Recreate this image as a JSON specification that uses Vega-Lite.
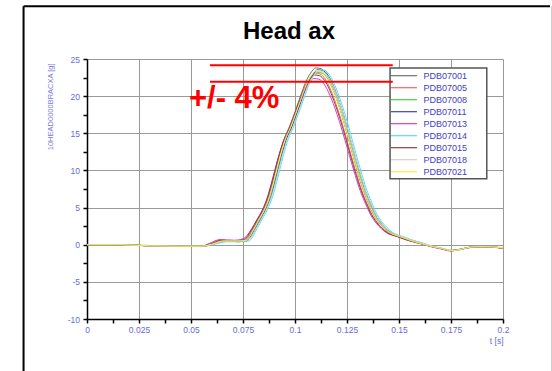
{
 "$schema": "https://vega.github.io/schema/vega-lite/v6.json",
 "width": 416,
 "height": 260,
 "autosize": {"type": "none"},
 "padding": {"left": 87, "top": 59, "right": 49, "bottom": 52},
 "background": "white",
 "config": {"view": {"stroke": null}, "font": "Liberation Sans"},
 "title": {"text": "Head ax", "font": "Liberation Sans", "fontSize": 24, "fontWeight": "bold", "color": "black", "anchor": "middle", "frame": "group", "baseline": "alphabetic", "offset": -58, "dx": -6},
 "encoding": {
  "x": {"field": "t", "type": "quantitative", "scale": {"domain": [0, 0.2], "nice": false, "zero": false},
   "axis": {
    "values": [0,0.0125,0.025,0.0375,0.05,0.0625,0.075,0.0875,0.1,0.1125,0.125,0.1375,0.15,0.1625,0.175,0.1875,0.2],
    "labelExpr": "round(datum.value*10000) % 250 == 0 ? '' + datum.value : ''",
    "grid": true, "gridColor": "#999999",
    "gridOpacity": {"condition": {"test": "round(datum.value*10000) % 250 != 0", "value": 0}, "value": 1},
    "domainColor": "black", "domainWidth": 1.5, "tickColor": "black", "tickSize": 4, "tickWidth": 1.5,
    "labelFont": "Liberation Sans", "labelFontSize": 8.5, "labelColor": "#6a6ad8", "labelPadding": 2, "labelFlush": false, "labelOverlap": false,
    "title": "t [s]", "titleFont": "Liberation Sans", "titleFontSize": 8.5, "titleFontWeight": "normal", "titleColor": "#6a6ad8",
    "titleX": 416, "titleY": 21, "titleAlign": "right", "titleBaseline": "middle"
   }},
  "y": {"field": "v", "type": "quantitative", "scale": {"domain": [-10, 25], "nice": false, "zero": false},
   "axis": {
    "values": [-10,-7.5,-5,-2.5,0,2.5,5,7.5,10,12.5,15,17.5,20,22.5,25],
    "labelExpr": "datum.value % 5 == 0 ? '' + datum.value : ''",
    "grid": true, "gridColor": "#999999",
    "gridOpacity": {"condition": {"test": "datum.value % 5 != 0", "value": 0}, "value": 1},
    "domainColor": "black", "domainWidth": 1.5, "tickColor": "black", "tickSize": 4, "tickWidth": 1.5,
    "labelFont": "Liberation Sans", "labelFontSize": 8.5, "labelColor": "#6a6ad8", "labelPadding": 3.5, "labelOverlap": false,
    "title": "10HEAD0000BRACXA [g]", "titleFont": "Liberation Sans", "titleFontSize": 7.5, "titleFontWeight": "normal", "titleColor": "#7a7ae0",
    "titleX": -36.5, "titleY": 4, "titleAngle": -90, "titleAlign": "right", "titleBaseline": "middle"
   }}
 },
 "layer": [
  {
   "data": {"values": [{"t": -0.0305, "v": 32.09, "v2": -17.5}]},
   "mark": {"type": "rule", "color": "black", "strokeWidth": 2},
   "encoding": {"y2": {"field": "v2"}}
  },
  {
   "data": {"values": [{"t": -0.0305, "t2": 0.2226, "v": 32.09}]},
   "mark": {"type": "rule", "color": "black", "strokeWidth": 2},
   "encoding": {"x2": {"field": "t2"}}
  },
  {
   "data": {"values": [{"t": 0.2233, "v": 32.09, "v2": -17.5}]},
   "mark": {"type": "rule", "color": "#cccccc", "strokeWidth": 1},
   "encoding": {"y2": {"field": "v2"}}
  },
  {
   "data": {"values": [
{"s":"PDB07001","t":0,"v":0},{"s":"PDB07001","t":0.015,"v":0},{"s":"PDB07001","t":0.03,"v":-0.15},{"s":"PDB07001","t":0.045,"v":-0.2},{"s":"PDB07001","t":0.055,"v":-0.2},
{"s":"PDB07001","t":0.06,"v":0.1},{"s":"PDB07001","t":0.065,"v":0.5},{"s":"PDB07001","t":0.072,"v":0.5},{"s":"PDB07001","t":0.076,"v":0.6},
{"s":"PDB07001","t":0.08,"v":2.2},{"s":"PDB07001","t":0.0825,"v":3.5},{"s":"PDB07001","t":0.085,"v":4.8},{"s":"PDB07001","t":0.0875,"v":6.6},{"s":"PDB07001","t":0.09,"v":9.2},{"s":"PDB07001","t":0.0925,"v":12.0},{"s":"PDB07001","t":0.095,"v":14.4},{"s":"PDB07001","t":0.0975,"v":16.0},{"s":"PDB07001","t":0.1,"v":17.9},{"s":"PDB07001","t":0.1025,"v":19.9},{"s":"PDB07001","t":0.105,"v":21.8},{"s":"PDB07001","t":0.1075,"v":23.1},{"s":"PDB07001","t":0.11,"v":23.8},{"s":"PDB07001","t":0.1125,"v":23.7},{"s":"PDB07001","t":0.115,"v":23.0},{"s":"PDB07001","t":0.1175,"v":21.6},{"s":"PDB07001","t":0.12,"v":19.7},{"s":"PDB07001","t":0.1225,"v":17.5},{"s":"PDB07001","t":0.125,"v":15.0},{"s":"PDB07001","t":0.1275,"v":12.4},{"s":"PDB07001","t":0.13,"v":9.9},{"s":"PDB07001","t":0.1325,"v":7.6},{"s":"PDB07001","t":0.135,"v":5.8},{"s":"PDB07001","t":0.1375,"v":4.2},{"s":"PDB07001","t":0.14,"v":3.1},{"s":"PDB07001","t":0.1425,"v":2.3},{"s":"PDB07001","t":0.145,"v":1.7},{"s":"PDB07001","t":0.15,"v":1.1},{"s":"PDB07001","t":0.155,"v":0.6},
{"s":"PDB07001","t":0.16,"v":0.2},{"s":"PDB07001","t":0.165,"v":-0.2},{"s":"PDB07001","t":0.17,"v":-0.5},{"s":"PDB07001","t":0.175,"v":-0.8},{"s":"PDB07001","t":0.18,"v":-0.6},{"s":"PDB07001","t":0.185,"v":-0.3},{"s":"PDB07001","t":0.19,"v":-0.25},{"s":"PDB07001","t":0.195,"v":-0.3},{"s":"PDB07001","t":0.2,"v":-0.45},

{"s":"PDB07005","t":0,"v":0},{"s":"PDB07005","t":0.015,"v":-0.05},{"s":"PDB07005","t":0.03,"v":-0.15},{"s":"PDB07005","t":0.045,"v":-0.25},{"s":"PDB07005","t":0.055,"v":-0.2},
{"s":"PDB07005","t":0.0595,"v":0.1},{"s":"PDB07005","t":0.0645,"v":0.6},{"s":"PDB07005","t":0.0715,"v":0.5},{"s":"PDB07005","t":0.0755,"v":0.6},
{"s":"PDB07005","t":0.0795,"v":2.13},{"s":"PDB07005","t":0.082,"v":3.4},{"s":"PDB07005","t":0.0845,"v":4.66},{"s":"PDB07005","t":0.087,"v":6.4},{"s":"PDB07005","t":0.0895,"v":8.92},{"s":"PDB07005","t":0.092,"v":11.64},{"s":"PDB07005","t":0.0945,"v":13.97},{"s":"PDB07005","t":0.097,"v":15.52},{"s":"PDB07005","t":0.0995,"v":17.36},{"s":"PDB07005","t":0.102,"v":19.3},{"s":"PDB07005","t":0.1045,"v":21.15},{"s":"PDB07005","t":0.107,"v":22.41},{"s":"PDB07005","t":0.1095,"v":23.09},{"s":"PDB07005","t":0.112,"v":22.99},{"s":"PDB07005","t":0.1145,"v":22.31},{"s":"PDB07005","t":0.117,"v":20.95},{"s":"PDB07005","t":0.1195,"v":19.11},{"s":"PDB07005","t":0.122,"v":16.98},{"s":"PDB07005","t":0.1245,"v":14.55},{"s":"PDB07005","t":0.127,"v":12.03},{"s":"PDB07005","t":0.1295,"v":9.6},{"s":"PDB07005","t":0.132,"v":7.37},{"s":"PDB07005","t":0.1345,"v":5.63},{"s":"PDB07005","t":0.137,"v":4.07},{"s":"PDB07005","t":0.1395,"v":3.01},{"s":"PDB07005","t":0.142,"v":2.23},{"s":"PDB07005","t":0.1445,"v":1.65},{"s":"PDB07005","t":0.1495,"v":1.1},{"s":"PDB07005","t":0.1545,"v":0.6},
{"s":"PDB07005","t":0.16,"v":0.2},{"s":"PDB07005","t":0.165,"v":-0.2},{"s":"PDB07005","t":0.17,"v":-0.5},{"s":"PDB07005","t":0.175,"v":-0.75},{"s":"PDB07005","t":0.18,"v":-0.6},{"s":"PDB07005","t":0.185,"v":-0.3},{"s":"PDB07005","t":0.19,"v":-0.25},{"s":"PDB07005","t":0.195,"v":-0.3},{"s":"PDB07005","t":0.2,"v":-0.45},

{"s":"PDB07008","t":0,"v":0},{"s":"PDB07008","t":0.015,"v":0},{"s":"PDB07008","t":0.03,"v":-0.1},{"s":"PDB07008","t":0.045,"v":-0.2},{"s":"PDB07008","t":0.055,"v":-0.2},
{"s":"PDB07008","t":0.0605,"v":0.1},{"s":"PDB07008","t":0.0655,"v":0.4},{"s":"PDB07008","t":0.0725,"v":0.5},{"s":"PDB07008","t":0.0765,"v":0.5},
{"s":"PDB07008","t":0.0805,"v":2.15},{"s":"PDB07008","t":0.083,"v":3.41},{"s":"PDB07008","t":0.0855,"v":4.68},{"s":"PDB07008","t":0.088,"v":6.44},{"s":"PDB07008","t":0.0905,"v":8.97},{"s":"PDB07008","t":0.093,"v":11.7},{"s":"PDB07008","t":0.0955,"v":14.04},{"s":"PDB07008","t":0.098,"v":15.6},{"s":"PDB07008","t":0.1005,"v":17.45},{"s":"PDB07008","t":0.103,"v":19.4},{"s":"PDB07008","t":0.1055,"v":21.26},{"s":"PDB07008","t":0.108,"v":22.52},{"s":"PDB07008","t":0.1105,"v":23.21},{"s":"PDB07008","t":0.113,"v":23.11},{"s":"PDB07008","t":0.1155,"v":22.43},{"s":"PDB07008","t":0.118,"v":21.06},{"s":"PDB07008","t":0.1205,"v":19.21},{"s":"PDB07008","t":0.123,"v":17.06},{"s":"PDB07008","t":0.1255,"v":14.63},{"s":"PDB07008","t":0.128,"v":12.09},{"s":"PDB07008","t":0.1305,"v":9.65},{"s":"PDB07008","t":0.133,"v":7.41},{"s":"PDB07008","t":0.1355,"v":5.66},{"s":"PDB07008","t":0.138,"v":4.1},{"s":"PDB07008","t":0.1405,"v":3.02},{"s":"PDB07008","t":0.143,"v":2.24},{"s":"PDB07008","t":0.1455,"v":1.66},{"s":"PDB07008","t":0.1505,"v":1.1},{"s":"PDB07008","t":0.1555,"v":0.6},
{"s":"PDB07008","t":0.16,"v":0.25},{"s":"PDB07008","t":0.165,"v":-0.2},{"s":"PDB07008","t":0.17,"v":-0.5},{"s":"PDB07008","t":0.175,"v":-0.8},{"s":"PDB07008","t":0.18,"v":-0.55},{"s":"PDB07008","t":0.185,"v":-0.3},{"s":"PDB07008","t":0.19,"v":-0.25},{"s":"PDB07008","t":0.195,"v":-0.3},{"s":"PDB07008","t":0.2,"v":-0.45},

{"s":"PDB07011","t":0,"v":0},{"s":"PDB07011","t":0.015,"v":0},{"s":"PDB07011","t":0.03,"v":-0.15},{"s":"PDB07011","t":0.045,"v":-0.2},{"s":"PDB07011","t":0.055,"v":-0.25},
{"s":"PDB07011","t":0.061,"v":0.1},{"s":"PDB07011","t":0.066,"v":0.5},{"s":"PDB07011","t":0.073,"v":0.4},{"s":"PDB07011","t":0.077,"v":0.6},
{"s":"PDB07011","t":0.081,"v":2.18},{"s":"PDB07011","t":0.0835,"v":3.47},{"s":"PDB07011","t":0.086,"v":4.75},{"s":"PDB07011","t":0.0885,"v":6.53},{"s":"PDB07011","t":0.091,"v":9.11},{"s":"PDB07011","t":0.0935,"v":11.88},{"s":"PDB07011","t":0.096,"v":14.26},{"s":"PDB07011","t":0.0985,"v":15.84},{"s":"PDB07011","t":0.101,"v":17.72},{"s":"PDB07011","t":0.1035,"v":19.7},{"s":"PDB07011","t":0.106,"v":21.58},{"s":"PDB07011","t":0.1085,"v":22.87},{"s":"PDB07011","t":0.111,"v":23.56},{"s":"PDB07011","t":0.1135,"v":23.46},{"s":"PDB07011","t":0.116,"v":22.77},{"s":"PDB07011","t":0.1185,"v":21.38},{"s":"PDB07011","t":0.121,"v":19.5},{"s":"PDB07011","t":0.1235,"v":17.33},{"s":"PDB07011","t":0.126,"v":14.85},{"s":"PDB07011","t":0.1285,"v":12.28},{"s":"PDB07011","t":0.131,"v":9.8},{"s":"PDB07011","t":0.1335,"v":7.52},{"s":"PDB07011","t":0.136,"v":5.74},{"s":"PDB07011","t":0.1385,"v":4.16},{"s":"PDB07011","t":0.141,"v":3.07},{"s":"PDB07011","t":0.1435,"v":2.28},{"s":"PDB07011","t":0.146,"v":1.68},{"s":"PDB07011","t":0.151,"v":1.1},{"s":"PDB07011","t":0.156,"v":0.6},
{"s":"PDB07011","t":0.16,"v":0.3},{"s":"PDB07011","t":0.165,"v":-0.15},{"s":"PDB07011","t":0.17,"v":-0.5},{"s":"PDB07011","t":0.175,"v":-0.8},{"s":"PDB07011","t":0.18,"v":-0.6},{"s":"PDB07011","t":0.185,"v":-0.35},{"s":"PDB07011","t":0.19,"v":-0.25},{"s":"PDB07011","t":0.195,"v":-0.3},{"s":"PDB07011","t":0.2,"v":-0.5},

{"s":"PDB07013","t":0,"v":0},{"s":"PDB07013","t":0.015,"v":0},{"s":"PDB07013","t":0.03,"v":-0.15},{"s":"PDB07013","t":0.045,"v":-0.2},{"s":"PDB07013","t":0.055,"v":-0.2},
{"s":"PDB07013","t":0.059,"v":0.2},{"s":"PDB07013","t":0.064,"v":0.7},{"s":"PDB07013","t":0.071,"v":0.6},{"s":"PDB07013","t":0.075,"v":0.8},
{"s":"PDB07013","t":0.079,"v":2.07},{"s":"PDB07013","t":0.0815,"v":3.29},{"s":"PDB07013","t":0.084,"v":4.51},{"s":"PDB07013","t":0.0865,"v":6.2},{"s":"PDB07013","t":0.089,"v":8.65},{"s":"PDB07013","t":0.0915,"v":11.28},{"s":"PDB07013","t":0.094,"v":13.54},{"s":"PDB07013","t":0.0965,"v":15.04},{"s":"PDB07013","t":0.099,"v":16.83},{"s":"PDB07013","t":0.1015,"v":18.71},{"s":"PDB07013","t":0.104,"v":20.49},{"s":"PDB07013","t":0.1065,"v":21.71},{"s":"PDB07013","t":0.109,"v":22.37},{"s":"PDB07013","t":0.1115,"v":22.28},{"s":"PDB07013","t":0.114,"v":21.62},{"s":"PDB07013","t":0.1165,"v":20.3},{"s":"PDB07013","t":0.119,"v":18.52},{"s":"PDB07013","t":0.1215,"v":16.45},{"s":"PDB07013","t":0.124,"v":14.1},{"s":"PDB07013","t":0.1265,"v":11.66},{"s":"PDB07013","t":0.129,"v":9.31},{"s":"PDB07013","t":0.1315,"v":7.14},{"s":"PDB07013","t":0.134,"v":5.45},{"s":"PDB07013","t":0.1365,"v":3.95},{"s":"PDB07013","t":0.139,"v":2.91},{"s":"PDB07013","t":0.1415,"v":2.16},{"s":"PDB07013","t":0.144,"v":1.6},{"s":"PDB07013","t":0.149,"v":1.1},{"s":"PDB07013","t":0.154,"v":0.6},
{"s":"PDB07013","t":0.16,"v":0.2},{"s":"PDB07013","t":0.165,"v":-0.25},{"s":"PDB07013","t":0.17,"v":-0.55},{"s":"PDB07013","t":0.175,"v":-0.85},{"s":"PDB07013","t":0.18,"v":-0.6},{"s":"PDB07013","t":0.185,"v":-0.3},{"s":"PDB07013","t":0.19,"v":-0.3},{"s":"PDB07013","t":0.195,"v":-0.3},{"s":"PDB07013","t":0.2,"v":-0.45},

{"s":"PDB07014","t":0,"v":0},{"s":"PDB07014","t":0.015,"v":0},{"s":"PDB07014","t":0.03,"v":-0.15},{"s":"PDB07014","t":0.045,"v":-0.2},{"s":"PDB07014","t":0.055,"v":-0.2},
{"s":"PDB07014","t":0.0618,"v":0.1},{"s":"PDB07014","t":0.0668,"v":0.4},{"s":"PDB07014","t":0.0738,"v":0.4},{"s":"PDB07014","t":0.0778,"v":0.5},
{"s":"PDB07014","t":0.0818,"v":2.18},{"s":"PDB07014","t":0.0843,"v":3.47},{"s":"PDB07014","t":0.0868,"v":4.75},{"s":"PDB07014","t":0.0893,"v":6.53},{"s":"PDB07014","t":0.0918,"v":9.11},{"s":"PDB07014","t":0.0943,"v":11.88},{"s":"PDB07014","t":0.0968,"v":14.26},{"s":"PDB07014","t":0.0993,"v":15.84},{"s":"PDB07014","t":0.1018,"v":17.72},{"s":"PDB07014","t":0.1043,"v":19.7},{"s":"PDB07014","t":0.1068,"v":21.58},{"s":"PDB07014","t":0.1093,"v":22.87},{"s":"PDB07014","t":0.1118,"v":23.56},{"s":"PDB07014","t":0.1143,"v":23.46},{"s":"PDB07014","t":0.1168,"v":22.77},{"s":"PDB07014","t":0.1193,"v":21.38},{"s":"PDB07014","t":0.1218,"v":19.5},{"s":"PDB07014","t":0.1243,"v":17.33},{"s":"PDB07014","t":0.1268,"v":14.85},{"s":"PDB07014","t":0.1293,"v":12.28},{"s":"PDB07014","t":0.1318,"v":9.8},{"s":"PDB07014","t":0.1343,"v":7.52},{"s":"PDB07014","t":0.1368,"v":5.74},{"s":"PDB07014","t":0.1393,"v":4.16},{"s":"PDB07014","t":0.1418,"v":3.07},{"s":"PDB07014","t":0.1443,"v":2.28},{"s":"PDB07014","t":0.1468,"v":1.68},{"s":"PDB07014","t":0.1518,"v":1.1},{"s":"PDB07014","t":0.1568,"v":0.6},
{"s":"PDB07014","t":0.161,"v":0.25},{"s":"PDB07014","t":0.166,"v":-0.2},{"s":"PDB07014","t":0.171,"v":-0.5},{"s":"PDB07014","t":0.176,"v":-0.8},{"s":"PDB07014","t":0.18,"v":-0.65},{"s":"PDB07014","t":0.185,"v":-0.3},{"s":"PDB07014","t":0.19,"v":-0.25},{"s":"PDB07014","t":0.195,"v":-0.3},{"s":"PDB07014","t":0.2,"v":-0.45},

{"s":"PDB07015","t":0,"v":0},{"s":"PDB07015","t":0.015,"v":0},{"s":"PDB07015","t":0.03,"v":-0.15},{"s":"PDB07015","t":0.045,"v":-0.2},{"s":"PDB07015","t":0.055,"v":-0.2},
{"s":"PDB07015","t":0.0593,"v":0.1},{"s":"PDB07015","t":0.0643,"v":0.6},{"s":"PDB07015","t":0.0713,"v":0.5},{"s":"PDB07015","t":0.0753,"v":0.7},
{"s":"PDB07015","t":0.0793,"v":2.11},{"s":"PDB07015","t":0.0818,"v":3.36},{"s":"PDB07015","t":0.0843,"v":4.61},{"s":"PDB07015","t":0.0868,"v":6.34},{"s":"PDB07015","t":0.0893,"v":8.83},{"s":"PDB07015","t":0.0918,"v":11.52},{"s":"PDB07015","t":0.0943,"v":13.82},{"s":"PDB07015","t":0.0968,"v":15.36},{"s":"PDB07015","t":0.0993,"v":17.18},{"s":"PDB07015","t":0.1018,"v":19.1},{"s":"PDB07015","t":0.1043,"v":20.93},{"s":"PDB07015","t":0.1068,"v":22.18},{"s":"PDB07015","t":0.1093,"v":22.85},{"s":"PDB07015","t":0.1118,"v":22.75},{"s":"PDB07015","t":0.1143,"v":22.08},{"s":"PDB07015","t":0.1168,"v":20.74},{"s":"PDB07015","t":0.1193,"v":18.91},{"s":"PDB07015","t":0.1218,"v":16.8},{"s":"PDB07015","t":0.1243,"v":14.4},{"s":"PDB07015","t":0.1268,"v":11.9},{"s":"PDB07015","t":0.1293,"v":9.5},{"s":"PDB07015","t":0.1318,"v":7.3},{"s":"PDB07015","t":0.1343,"v":5.57},{"s":"PDB07015","t":0.1368,"v":4.03},{"s":"PDB07015","t":0.1393,"v":2.98},{"s":"PDB07015","t":0.1418,"v":2.21},{"s":"PDB07015","t":0.1443,"v":1.63},{"s":"PDB07015","t":0.1493,"v":1.1},{"s":"PDB07015","t":0.1543,"v":0.6},
{"s":"PDB07015","t":0.16,"v":0.15},{"s":"PDB07015","t":0.165,"v":-0.2},{"s":"PDB07015","t":0.17,"v":-0.5},{"s":"PDB07015","t":0.175,"v":-0.8},{"s":"PDB07015","t":0.18,"v":-0.6},{"s":"PDB07015","t":0.185,"v":-0.3},{"s":"PDB07015","t":0.19,"v":-0.25},{"s":"PDB07015","t":0.195,"v":-0.35},{"s":"PDB07015","t":0.2,"v":-0.45},

{"s":"PDB07018","t":0,"v":0},{"s":"PDB07018","t":0.015,"v":0},{"s":"PDB07018","t":0.03,"v":-0.15},{"s":"PDB07018","t":0.045,"v":-0.2},{"s":"PDB07018","t":0.055,"v":-0.2},
{"s":"PDB07018","t":0.0612,"v":0.1},{"s":"PDB07018","t":0.0662,"v":0.5},{"s":"PDB07018","t":0.0732,"v":0.5},{"s":"PDB07018","t":0.0772,"v":0.6},
{"s":"PDB07018","t":0.0812,"v":2.16},{"s":"PDB07018","t":0.0837,"v":3.43},{"s":"PDB07018","t":0.0862,"v":4.7},{"s":"PDB07018","t":0.0887,"v":6.47},{"s":"PDB07018","t":0.0912,"v":9.02},{"s":"PDB07018","t":0.0937,"v":11.76},{"s":"PDB07018","t":0.0962,"v":14.11},{"s":"PDB07018","t":0.0987,"v":15.68},{"s":"PDB07018","t":0.1012,"v":17.54},{"s":"PDB07018","t":0.1037,"v":19.5},{"s":"PDB07018","t":0.1062,"v":21.36},{"s":"PDB07018","t":0.1087,"v":22.64},{"s":"PDB07018","t":0.1112,"v":23.32},{"s":"PDB07018","t":0.1137,"v":23.23},{"s":"PDB07018","t":0.1162,"v":22.54},{"s":"PDB07018","t":0.1187,"v":21.17},{"s":"PDB07018","t":0.1212,"v":19.31},{"s":"PDB07018","t":0.1237,"v":17.15},{"s":"PDB07018","t":0.1262,"v":14.7},{"s":"PDB07018","t":0.1287,"v":12.15},{"s":"PDB07018","t":0.1312,"v":9.7},{"s":"PDB07018","t":0.1337,"v":7.45},{"s":"PDB07018","t":0.1362,"v":5.68},{"s":"PDB07018","t":0.1387,"v":4.12},{"s":"PDB07018","t":0.1412,"v":3.04},{"s":"PDB07018","t":0.1437,"v":2.25},{"s":"PDB07018","t":0.1462,"v":1.67},{"s":"PDB07018","t":0.1512,"v":1.1},{"s":"PDB07018","t":0.1562,"v":0.6},
{"s":"PDB07018","t":0.161,"v":0.2},{"s":"PDB07018","t":0.166,"v":-0.2},{"s":"PDB07018","t":0.171,"v":-0.5},{"s":"PDB07018","t":0.176,"v":-0.8},{"s":"PDB07018","t":0.18,"v":-0.6},{"s":"PDB07018","t":0.185,"v":-0.3},{"s":"PDB07018","t":0.19,"v":-0.25},{"s":"PDB07018","t":0.195,"v":-0.3},{"s":"PDB07018","t":0.2,"v":-0.45},

{"s":"PDB07021","t":0,"v":0},{"s":"PDB07021","t":0.015,"v":0},{"s":"PDB07021","t":0.03,"v":-0.15},{"s":"PDB07021","t":0.045,"v":-0.2},{"s":"PDB07021","t":0.055,"v":-0.2},
{"s":"PDB07021","t":0.0603,"v":0.1},{"s":"PDB07021","t":0.0653,"v":0.5},{"s":"PDB07021","t":0.0723,"v":0.5},{"s":"PDB07021","t":0.0763,"v":0.6},
{"s":"PDB07021","t":0.0803,"v":2.17},{"s":"PDB07021","t":0.0828,"v":3.45},{"s":"PDB07021","t":0.0853,"v":4.73},{"s":"PDB07021","t":0.0878,"v":6.5},{"s":"PDB07021","t":0.0903,"v":9.06},{"s":"PDB07021","t":0.0928,"v":11.82},{"s":"PDB07021","t":0.0953,"v":14.18},{"s":"PDB07021","t":0.0978,"v":15.76},{"s":"PDB07021","t":0.1003,"v":17.63},{"s":"PDB07021","t":0.1028,"v":19.6},{"s":"PDB07021","t":0.1053,"v":21.47},{"s":"PDB07021","t":0.1078,"v":22.75},{"s":"PDB07021","t":0.1103,"v":23.44},{"s":"PDB07021","t":0.1128,"v":23.34},{"s":"PDB07021","t":0.1153,"v":22.66},{"s":"PDB07021","t":0.1178,"v":21.28},{"s":"PDB07021","t":0.1203,"v":19.4},{"s":"PDB07021","t":0.1228,"v":17.24},{"s":"PDB07021","t":0.1253,"v":14.78},{"s":"PDB07021","t":0.1278,"v":12.21},{"s":"PDB07021","t":0.1303,"v":9.75},{"s":"PDB07021","t":0.1328,"v":7.49},{"s":"PDB07021","t":0.1353,"v":5.71},{"s":"PDB07021","t":0.1378,"v":4.14},{"s":"PDB07021","t":0.1403,"v":3.05},{"s":"PDB07021","t":0.1428,"v":2.27},{"s":"PDB07021","t":0.1453,"v":1.67},{"s":"PDB07021","t":0.1503,"v":1.1},{"s":"PDB07021","t":0.1553,"v":0.6},
{"s":"PDB07021","t":0.16,"v":0.2},{"s":"PDB07021","t":0.165,"v":-0.2},{"s":"PDB07021","t":0.17,"v":-0.5},{"s":"PDB07021","t":0.175,"v":-0.8},{"s":"PDB07021","t":0.18,"v":-0.6},{"s":"PDB07021","t":0.185,"v":-0.3},{"s":"PDB07021","t":0.19,"v":-0.25},{"s":"PDB07021","t":0.195,"v":-0.3},{"s":"PDB07021","t":0.2,"v":-0.4}
   ]},
   "mark": {"type": "line", "strokeWidth": 1, "interpolate": "monotone"},
   "encoding": {
    "color": {"field": "s", "type": "nominal",
     "scale": {"domain": ["PDB07001","PDB07005","PDB07008","PDB07011","PDB07013","PDB07014","PDB07015","PDB07018","PDB07021"],
      "range": ["#707070","#ff6060","#40d040","#4040c0","#d040d0","#50e0f0","#904040","#d0d0d0","#f0f040"]},
     "legend": {"orient": "none", "legendX": 303, "legendY": 7.7, "title": null,
      "symbolType": "M-2.167,0H2.167", "symbolSize": 144, "symbolStrokeWidth": 1.2, "symbolOffset": 4.95,
      "labelFont": "Liberation Sans", "labelFontSize": 9, "labelColor": "#4040c8", "labelOffset": 12.6,
      "padding": 2, "rowPadding": 0}}
   }
  },
  {
   "data": {"values": [{"t": 0.1457, "t2": 0.1922, "v": 23.79, "v2": 8.89}]},
   "mark": {"type": "rect", "fill": "white", "stroke": "#555555", "strokeWidth": 1.5},
   "encoding": {"x2": {"field": "t2"}, "y2": {"field": "v2"}}
  },
  {
   "data": {"values": [{"t": 0.0591, "t2": 0.147, "v": 24.15}, {"t": 0.0591, "t2": 0.147, "v": 21.95}]},
   "mark": {"type": "rule", "color": "#ff0000", "strokeWidth": 2},
   "encoding": {"x2": {"field": "t2"}}
  },
  {
   "data": {"values": [{"t": 0.049, "v": 18.34, "label": "+/- 4%"}]},
   "mark": {"type": "text", "font": "Liberation Sans", "fontSize": 31, "fontWeight": "bold", "color": "#ff0000", "align": "left", "baseline": "alphabetic"},
   "encoding": {"text": {"field": "label"}}
  }
 ]
}
